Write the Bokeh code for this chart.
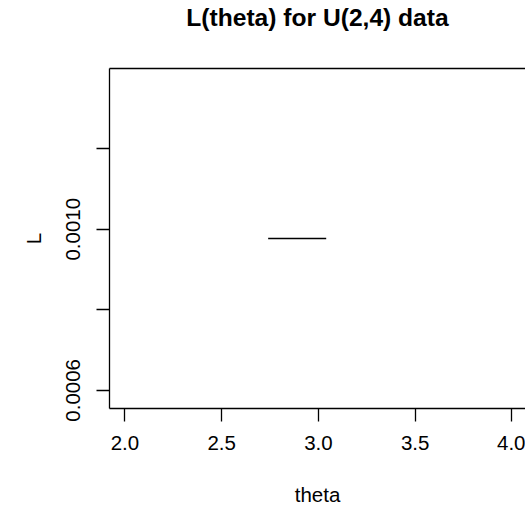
from bokeh.plotting import figure
from bokeh.models import Range1d, FixedTicker, LinearAxis
from bokeh.embed import file_html
from bokeh.resources import INLINE

# data
theta = [2.74, 3.04]
L = [0.000977, 0.000977]

x_ticks = [2.0, 2.5, 3.0, 3.5, 4.0]
x_tick_labels = ["2.0", "2.5", "3.0", "3.5", "4.0"]
y_ticks = [0.0006, 0.0008, 0.0010, 0.0012]
y_tick_labels = ["0.0006", "", "0.0010", ""]

TITLE = "L(theta) for U(2,4) data"
FONT = "Liberation Sans"

# R-like ranges
x_lo, x_hi = 2.0, 4.0
x_pad = 0.04 * (x_hi - x_lo)
y_lo, y_hi = 0.6 * L[0], 1.4 * L[0]
y_pad = 0.04 * (y_hi - y_lo)

p = figure(width=525, height=512, output_backend="svg", toolbar_location=None,
           x_range=Range1d(x_lo - x_pad, x_hi + x_pad - 0.01),
           y_range=Range1d(y_lo - y_pad, y_hi + y_pad),
           min_border_left=109, min_border_right=0, min_border_top=67,
           min_border_bottom=104)

p.background_fill_color = "white"
p.border_fill_color = "white"
p.outline_line_color = None
p.grid.visible = False

bottom_axis = p.below[0]
left_axis = p.left[0]

p.line(theta, L, line_color="black", line_width=1.5)

for ax in (bottom_axis, left_axis):
    ax.axis_line_color = "black"
    ax.axis_line_width = 1.3
    ax.major_tick_line_color = "black"
    ax.major_tick_line_width = 1.3
    ax.major_tick_in = 0
    ax.major_tick_out = 13
    ax.minor_tick_line_color = None
    ax.major_label_text_font = FONT
    ax.major_label_text_font_size = "20.5px"
    ax.major_label_text_color = "black"
    ax.axis_label_text_font = FONT
    ax.axis_label_text_font_size = "20.5px"
    ax.axis_label_text_font_style = "normal"
    ax.axis_label_text_color = "black"

bottom_axis.ticker = FixedTicker(ticks=x_ticks)
bottom_axis.major_label_overrides = {t: s for t, s in zip(x_ticks, x_tick_labels)}
bottom_axis.major_label_standoff = 14
bottom_axis.axis_label = "theta"
bottom_axis.axis_label_standoff = 30

left_axis.ticker = FixedTicker(ticks=y_ticks)
left_axis.major_label_overrides = {t: s for t, s in zip(y_ticks, y_tick_labels)}
left_axis.major_label_orientation = "vertical"
left_axis.major_label_standoff = 16
left_axis.axis_label = "L"
left_axis.axis_label_standoff = 19

# top side of the box, carrying the title as its label
top_axis = LinearAxis(ticker=FixedTicker(ticks=[]))
top_axis.axis_line_color = "black"
top_axis.axis_line_width = 1.3
top_axis.major_tick_out = 0
top_axis.major_tick_in = 0
top_axis.minor_tick_line_color = None
top_axis.major_label_standoff = 0
top_axis.major_label_text_font_size = "0px"
top_axis.axis_label = TITLE
top_axis.axis_label_text_font = FONT
top_axis.axis_label_text_font_size = "24.6px"
top_axis.axis_label_text_font_style = "bold"
top_axis.axis_label_text_color = "black"
top_axis.axis_label_standoff = 38
p.add_layout(top_axis, "above")

open("out.html", "w").write(file_html(p, INLINE))
